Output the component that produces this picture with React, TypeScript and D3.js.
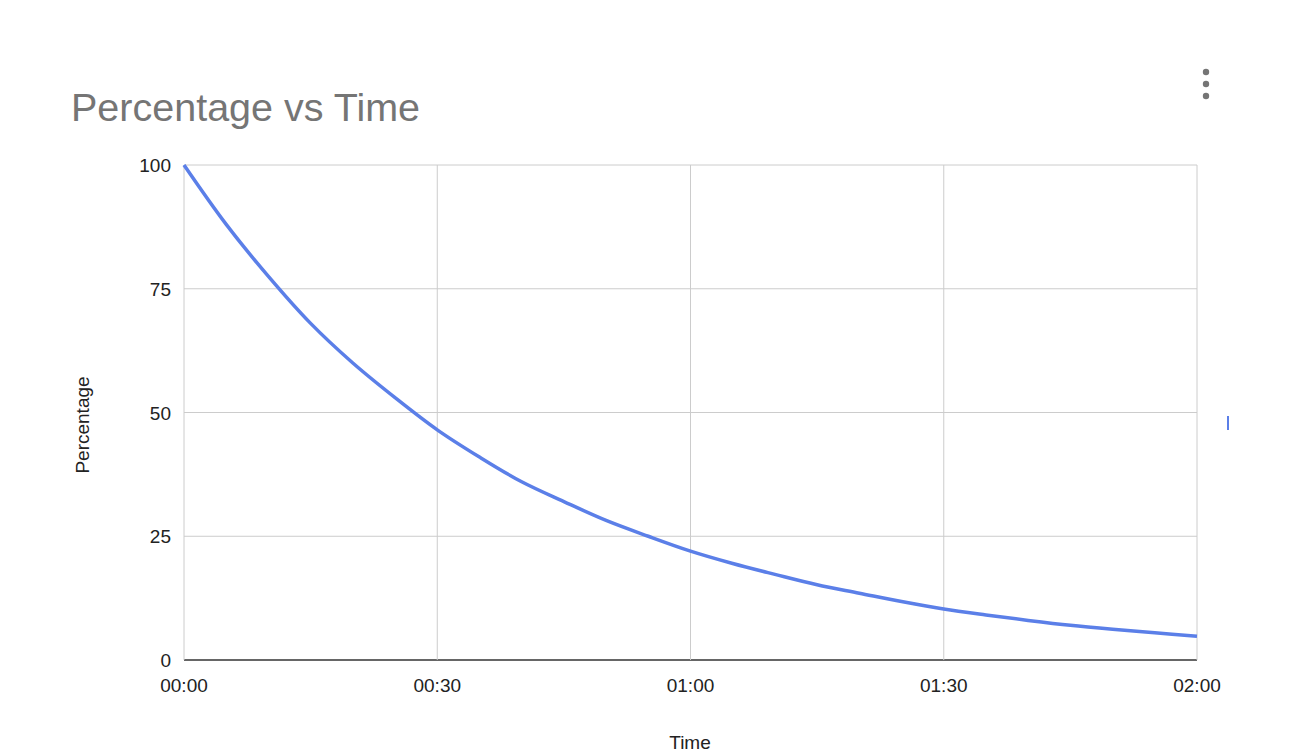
import React from "react";
import * as d3 from "d3";

const minutes = [0,5,10,15,20,25,30,35,40,45,50,55,60,65,70,75,80,85,90,95,100,105,110,115,120];
const percentage = [100,88,77.5,68,60,53,46.5,41,36,32,28.2,25,22,19.5,17.3,15.2,13.5,11.8,10.3,9.1,8,7,6.2,5.5,4.8];
const yTicks = [0,25,50,75,100];
const xTicks = [0,30,60,90,120];
const xTickLabels = ["00:00","00:30","01:00","01:30","02:00"];

export default function App() {
  const W = 1316, H = 752;
  const x = d3.scaleLinear().domain([0,120]).range([184,1197]);
  const y = d3.scaleLinear().domain([0,100]).range([660,165]);
  const line = d3.line<number>().x((_, i) => x(minutes[i])).y(d => y(d)).curve(d3.curveCatmullRom);
  const font = "Arial, 'Liberation Sans', sans-serif";
  return (
    <svg width={W} height={H} style={{position:"absolute",left:0,top:0,background:"#fff"}} fontFamily={font}>
      <text x={71} y={121} fontSize={39.5} fill="#757575">Percentage vs Time</text>
      {[0,1,2].map(i => <circle key={i} cx={1206} cy={72+i*12} r={3.2} fill="#757575" />)}
      {yTicks.map(t => (
        <g key={t}>
          <line x1={184} x2={1197} y1={y(t)} y2={y(t)} stroke={t===0?"#333":"#cccccc"} strokeWidth={t===0?1.5:1} />
          <text x={171} y={y(t)+7} textAnchor="end" fontSize={19} fill="#222">{t}</text>
        </g>
      ))}
      {xTicks.map((t,i) => (
        <g key={t}>
          {t>0 && <line x1={x(t)} x2={x(t)} y1={165} y2={660} stroke="#cccccc" />}
          <text x={x(t)} y={692} textAnchor="middle" fontSize={19} fill="#222">{xTickLabels[i]}</text>
        </g>
      ))}
      <line x1={184} x2={184} y1={165} y2={660} stroke="#cccccc" />
      <path d={line(percentage) || ""} fill="none" stroke="#5b7fe8" strokeWidth={3.5} />
      <text x={690} y={749} textAnchor="middle" fontSize={19} fill="#222">Time</text>
      <text transform="translate(89,425) rotate(-90)" textAnchor="middle" fontSize={19} fill="#222">Percentage</text>
      <line x1={1228} x2={1228} y1={416} y2={430} stroke="#5b7fe8" strokeWidth={2} />
    </svg>
  );
}
